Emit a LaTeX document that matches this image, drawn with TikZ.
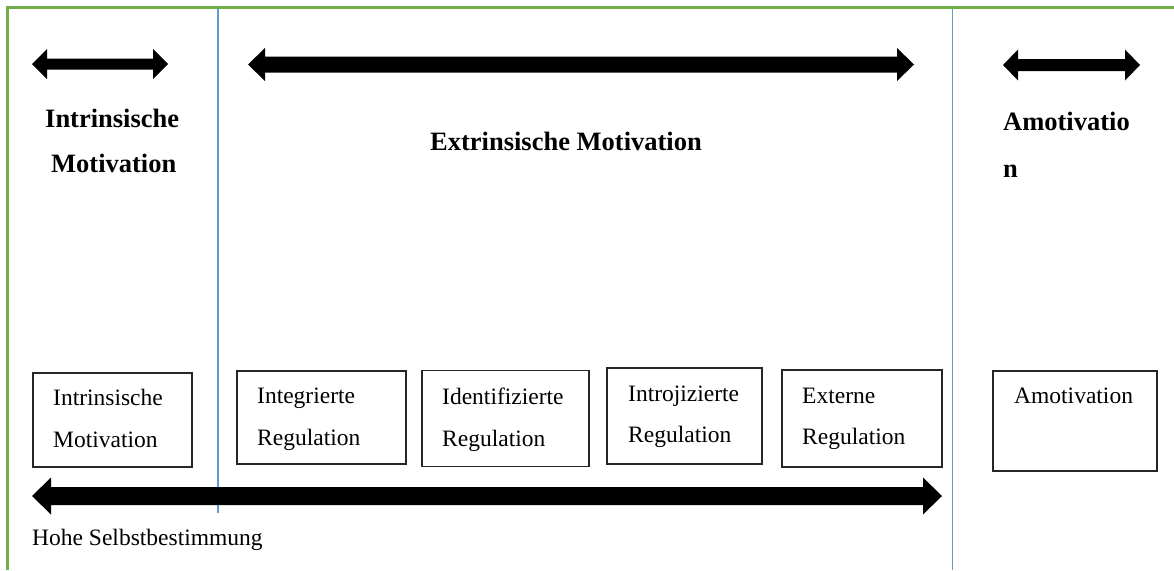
\documentclass[tikz,border=0pt]{standalone}
\usepackage{fontspec}
\setmainfont{Liberation Serif}
\definecolor{framegreen}{RGB}{112,173,71}
\definecolor{lineblue}{RGB}{91,155,213}
\newcommand{\myDblArrow}[6]{%
  % #1 left tip x, #2 right tip x, #3 y, #4 head half height, #5 shaft half, #6 head length
  \fill[black] (#1,#3) -- (#1+#6,#3-#4) -- (#1+#6,#3-#5) -- (#2-#6,#3-#5) -- (#2-#6,#3-#4)
    -- (#2,#3) -- (#2-#6,#3+#4) -- (#2-#6,#3+#5) -- (#1+#6,#3+#5) -- (#1+#6,#3+#4) -- cycle;}
\begin{document}
\begin{tikzpicture}[x=1pt,y=-1pt,
  boxnode/.style={draw=black!85,line width=1.2pt,rectangle,inner sep=0pt},
  headtext/.style={font=\fontsize{26.5}{30}\selectfont\bfseries,anchor=base west,inner sep=0pt},
  bodytext/.style={font=\fontsize{23.5}{27}\selectfont,anchor=base west,inner sep=0pt},
  greenline/.style={draw=framegreen,line width=3pt},
  blueline/.style={draw=lineblue,line width=1.5pt}]
\useasboundingbox (0,0) rectangle (1174,570);
\fill[white] (0,0) rectangle (1174,570);
% frame
\draw[greenline] (7.5,570) -- (7.5,7.5) -- (1174,7.5);
% separators
\draw[blueline] (218,9) -- (218,513);
\draw[blueline] (952.5,9) -- (952.5,570);
% top arrows
\myDblArrow{32}{168}{64}{15}{5.5}{15}
\myDblArrow{248}{914}{64.5}{16.5}{8}{17}
\myDblArrow{1003}{1140}{65}{15.5}{6}{15}
% bottom arrow
\myDblArrow{32}{942}{496}{18.5}{9}{19}
% headings
\node[headtext] (h1a) at (45,127) {Intrinsische};
\node[headtext] (h1b) at (51,172) {Motivation};
\node[headtext] (h2) at (430,150) {Extrinsische Motivation};
\node[headtext] (h3a) at (1003,130) {Amotivatio};
\node[headtext] (h3b) at (1003,177) {n};
% boxes
\node[boxnode,minimum width=159pt,minimum height=94pt] (b1) at (112.5,420) {};
\node[boxnode,minimum width=169pt,minimum height=93pt] (b2) at (321.5,417.5) {};
\node[boxnode,minimum width=167pt,minimum height=96pt] (b3) at (505.5,418.5) {};
\node[boxnode,minimum width=155pt,minimum height=96pt] (b4) at (684.5,416) {};
\node[boxnode,minimum width=160pt,minimum height=97pt] (b5) at (862,418.5) {};
\node[boxnode,minimum width=164pt,minimum height=100pt] (b6) at (1075,421) {};
% box texts
\node[bodytext] (t1a) at (53,405) {Intrinsische};
\node[bodytext] (t1b) at (53,447) {Motivation};
\node[bodytext] (t2a) at (257,403) {Integrierte};
\node[bodytext] (t2b) at (257,445) {Regulation};
\node[bodytext] (t3a) at (442,404) {Identifizierte};
\node[bodytext] (t3b) at (442,446) {Regulation};
\node[bodytext] (t4a) at (628,401) {Introjizierte};
\node[bodytext] (t4b) at (628,442) {Regulation};
\node[bodytext] (t5a) at (802,403) {Externe};
\node[bodytext] (t5b) at (802,444) {Regulation};
\node[bodytext] (t6a) at (1014,403) {Amotivation};
% bottom label
\node[bodytext] (lab) at (32,545) {Hohe Selbstbestimmung};
\end{tikzpicture}
\end{document}
